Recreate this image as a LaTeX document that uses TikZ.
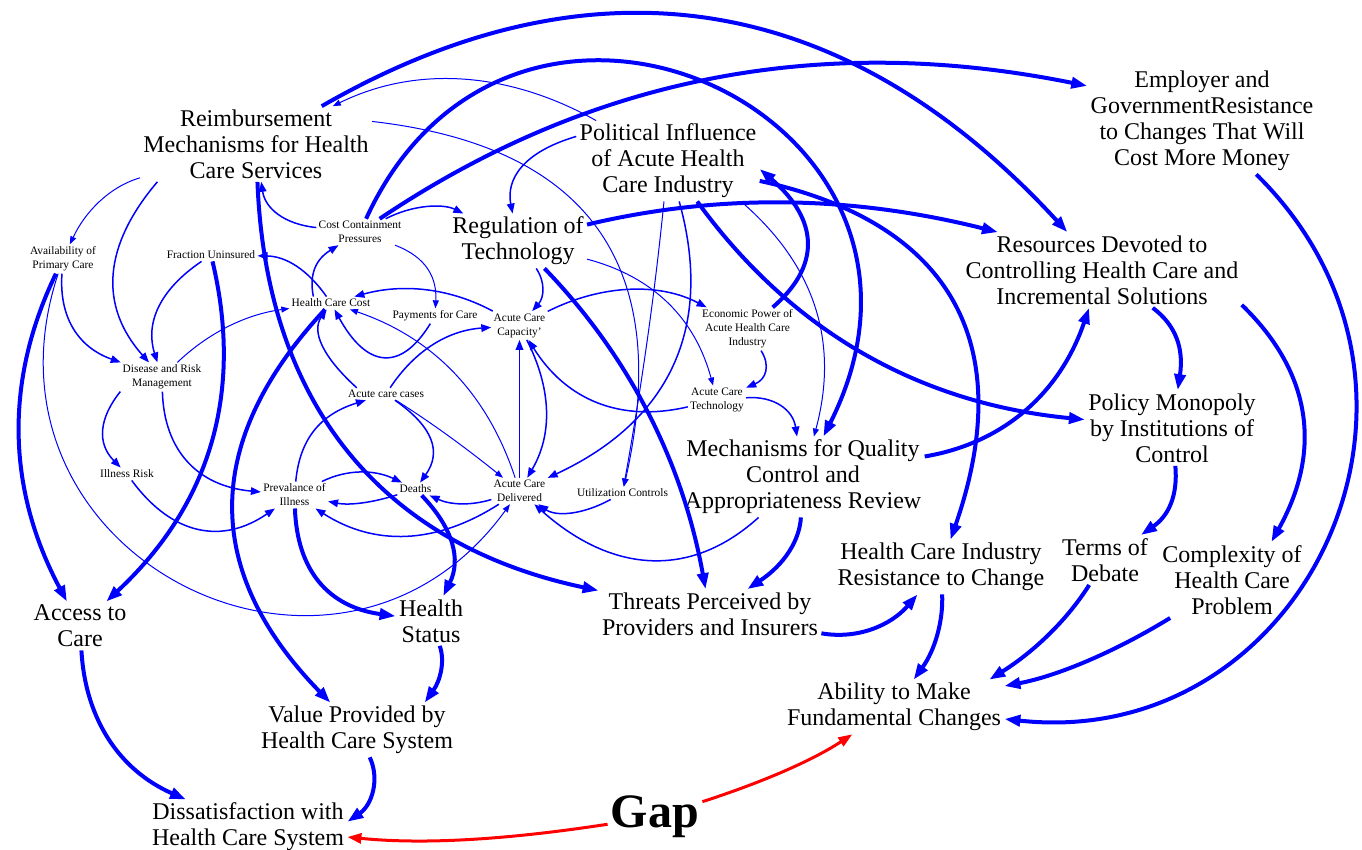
\documentclass[tikz,border=0pt]{standalone}
\usepackage{fontspec}
\setmainfont{Liberation Serif}
\usetikzlibrary{arrows.meta}

\begin{document}
\begin{tikzpicture}[x=0.5pt, y=-0.5pt,
  big/.style={align=center, inner sep=1.5pt, font=\fontsize{12}{13}\selectfont},
  small/.style={align=center, inner sep=1pt, font=\fontsize{5.7}{7}\selectfont},
  thk/.style={blue, line width=2pt, -{Triangle[length=8pt,width=5.5pt]}},
  med/.style={blue, line width=0.75pt, -{Triangle[length=5pt,width=3.8pt]}},
  thn/.style={blue, line width=0.5pt, -{Triangle[length=4pt,width=3pt]}},
  gaparrow/.style={red, line width=1.5pt, -{Triangle[length=7pt,width=5pt]}},
]
\fill[white] (0,0) rectangle (1362,850);
\useasboundingbox (0,0) rectangle (1362,850);

% ---- main variables
\node[big] (reimb) at (256,144) {Reimbursement\\Mechanisms for Health\\Care Services};
\node[big] (polinf) at (668,161) {Political Influence\\of Acute Health\\Care Industry};
\node[big] (employer) at (1202,121) {Employer and\\GovernmentResistance\\to Changes That Will\\Cost More Money};
\node[big] (regtech) at (518,241) {Regulation of\\Technology};
\node[big] (resources) at (1102,270) {Resources Devoted to\\Controlling Health Care and\\Incremental Solutions};
\node[big] (policymon) at (1172,428) {Policy Monopoly\\by Institutions of\\Control};
\node[big] (mech) at (803,477) {Mechanisms for Quality\\Control and\\Appropriateness Review};
\node[big] (hcires) at (941,567) {Health Care Industry\\Resistance to Change};
\node[big] (terms) at (1105,560) {Terms of\\Debate};
\node[big] (complexity) at (1232,580) {Complexity of\\Health Care\\Problem};
\node[big] (threats) at (710,614) {Threats Perceived by\\Providers and Insurers};
\node[big] (access) at (80,626) {Access to\\Care};
\node[big] (hstatus) at (431,621) {Health\\Status};
\node[big] (value) at (357,730) {Value Provided by\\Health Care System};
\node[big] (ability) at (894,707) {Ability to Make\\Fundamental Changes};
\node[big] (dissat) at (248,827) {Dissatisfaction with\\Health Care System};
\node[font=\fontsize{24}{24}\selectfont\bfseries, inner sep=1.5pt] (gap) at (655,817) {Gap};

% ---- detail variables
\node[small] (avail) at (63,259) {Availability of\\Primary Care};
\node[small] (fracun) at (211,255) {Fraction Uninsured};
\node[small] (costcont) at (360,232) {Cost Containment\\Pressures};
\node[small] (hccost) at (331,303) {Health Care Cost};
\node[small] (payments) at (435,316) {Payments for Care};
\node[small] (accap) at (519.5,325.5) {Acute Care\\Capacity'};
\node[small] (econpow) at (747.5,329) {Economic Power of\\Acute Health Care\\Industry};
\node[small] (actech) at (717,400) {Acute Care\\Technology};
\node[small] (disrisk) at (162,377) {Disease and Risk\\Management};
\node[small] (accases) at (386,394) {Acute care cases};
\node[small] (illrisk) at (127,474) {Illness Risk};
\node[small] (prev) at (294.5,495) {Prevalance of\\Illness};
\node[small] (deaths) at (415.5,489) {Deaths};
\node[small] (acdel) at (519.5,491) {Acute Care\\Delivered};
\node[small] (utilctrl) at (622.5,493) {Utilization Controls};

% ---- long arcs across the top
\draw[thk] (reimb) .. controls (593.7,-50.3) and (846,-9) .. (resources);
\draw[thk] (regtech) .. controls (718.7,193.3) and (851,195.3) .. (resources.160);
\draw[thk] (costcont) .. controls (514,-103) and (985,116) .. (mech);
\draw[thk] (costcont) .. controls (593,75.3) and (824.7,32.7) .. (employer.163);
\draw[thn] (polinf) .. controls (509.7,72) and (417,64.7) .. (reimb);
\draw[thn] (reimb.11) .. controls (588,146) and (674,265) .. (utilctrl);

% ---- acute care industry
\draw[thn] (polinf) .. controls (655,291.7) and (642,384) .. (utilctrl);
\draw[med] (polinf) .. controls (714.3,328) and (669.3,421.3) .. (acdel);
\draw[med] (actech) .. controls (620.3,422.7) and (566,400) .. (accap);
\draw[thn] (regtech) .. controls (654.7,277) and (695.3,319.7) .. (actech);
\draw[thn] (polinf.-29) .. controls (814,264.3) and (839.7,341) .. (mech);
\draw[med] (accap) .. controls (602.3,284) and (660,282.7) .. (econpow);
\draw[med] (econpow) .. controls (770.7,366) and (766,379.3) .. (actech);
\draw[med] (actech) .. controls (773.7,395.7) and (793,409.7) .. (mech);
\draw[thk] (econpow) .. controls (820,266.7) and (820,220.7) .. (polinf.-5);
\draw[thk] (polinf) .. controls (954.5,223.3) and (1017.5,346.9) .. (hcires);
\draw[thk] (polinf) .. controls (789.3,328.7) and (916.3,403.3) .. (policymon);

% ---- threats and resistance
\draw[thk] (reimb) .. controls (266,403.7) and (381.3,544.7) .. (threats);
\draw[thk] (regtech) .. controls (631.3,358.3) and (683.3,465.3) .. (threats);
\draw[thk] (mech) .. controls (799.7,540) and (784.7,564.3) .. (threats);
\draw[med] (mech) .. controls (692.3,577.7) and (613.7,575) .. (acdel);
\draw[thk] (mech) .. controls (1006.3,442.7) and (1061,390.3) .. (resources);
\draw[thk] (threats) .. controls (858,639.7) and (891.3,625) .. (hcires);
\draw[thk] (hcires) .. controls (943.3,621) and (935,650) .. (ability);
\draw[thk] (terms) .. controls (1064.7,623.7) and (1030,654.3) .. (ability.16);
\draw[thk] (complexity) .. controls (1114.7,652) and (1057.3,676) .. (ability);
\draw[thk] (employer) .. controls (1476.8,391) and (1305,751.7) .. (ability);
\draw[thk] (resources) .. controls (1175.7,325) and (1184,348.3) .. (policymon);
\draw[thk] (resources.-14) .. controls (1310.3,371.1) and (1323.3,449.1) .. (complexity.44);
\draw[thk] (policymon) .. controls (1178,496) and (1168.3,516) .. (terms);

% ---- outcomes
\draw[thk] (hstatus) .. controls (445.3,661.7) and (440,681) .. (value.22);
\draw[thk] (value) .. controls (380,779.3) and (372,805) .. (dissat.3);
\draw[thk] (access) .. controls (85.4,719.5) and (119.4,770.1) .. (dissat);
\draw[thk] (avail) .. controls (4.7,379.7) and (6.3,488) .. (access);
\draw[thk] (fracun) .. controls (244,394.3) and (209,506) .. (access);
\draw[thk] (hccost) .. controls (202.3,441.3) and (201.7,570.7) .. (value);
\draw[thk] (prev) .. controls (297,570.4) and (328.3,607) .. (hstatus);
\draw[thk] (deaths) .. controls (454,529) and (461,560) .. (hstatus);

% ---- cost and capacity loops
\draw[med] (regtech) .. controls (545.7,282.7) and (544,297.7) .. (accap);
\draw[med] (polinf.165) .. controls (522.3,152.3) and (506,179.7) .. (regtech);
\draw[med] (costcont) .. controls (413.7,204.3) and (443.7,203.7) .. (regtech);
\draw[med] (costcont) .. controls (284.3,224.3) and (265,208.3) .. (reimb);
\draw[thn] (costcont) .. controls (427,257.3) and (437,278.3) .. (payments);
\draw[med] (hccost.160) .. controls (309.7,278.3) and (313,261) .. (costcont);
\draw[med] (hccost) .. controls (307.3,269.3) and (285.7,256.3) .. (fracun);
\draw[med] (accap) .. controls (451.7,289) and (405,282.7) .. (hccost);
\draw[med] (payments) .. controls (400.7,372) and (366.7,368.3) .. (hccost);
\draw[med] (accases.168) .. controls (321.7,356) and (311.7,331) .. (hccost);
\draw[thn] (acdel) .. controls (487,392.5) and (432,337.2) .. (hccost);
\draw[thn] (disrisk) .. controls (208.3,333) and (245.7,314.3) .. (hccost);
\draw[med] (accases) .. controls (415.2,350) and (448.5,330.3) .. (accap);
\draw[med] (accases) .. controls (433.7,427.3) and (441.7,452.3) .. (deaths);
\draw[thn] (accases) .. controls (433,423.7) and (466.3,448.3) .. (acdel);
\draw[med] (prev) .. controls (299.7,439) and (320.3,414.3) .. (accases);
\draw[med] (prev) .. controls (346.7,469.3) and (374,469.3) .. (deaths);
\draw[med] (deaths) .. controls (373.7,502.3) and (350.3,505.7) .. (prev);
\draw[med] (acdel) .. controls (470,506) and (450,504.7) .. (deaths);
\draw[med] (acdel) .. controls (435.7,544.7) and (374.3,546.3) .. (prev);
\draw[med] (acdel) -- (accap);
\draw[med] (accap) .. controls (551,387.7) and (553.3,433.3) .. (acdel);
\draw[med] (utilctrl) .. controls (582.3,515) and (556,516.7) .. (acdel);

% ---- prevention side
\draw[med] (illrisk) .. controls (172.5,535.9) and (222.5,544.5) .. (prev);
\draw[med] (disrisk) .. controls (164,450.2) and (197.3,486.2) .. (prev);
\draw[med] (disrisk.south west) .. controls (99,418.3) and (96.7,443.3) .. (illrisk);
\draw[med] (avail) .. controls (58.9,317.4) and (78.3,347.4) .. (disrisk);
\draw[med] (fracun) .. controls (159.7,289.7) and (145,323) .. (disrisk);
\draw[med] (reimb.201) .. controls (103,245.7) and (98.7,306) .. (disrisk);
\draw[thn] (reimb) .. controls (108.7,187) and (84.7,212.7) .. (avail);
\draw[thn] (avail) .. controls (-35.7,557.5) and (337,742.7) .. (acdel);

% ---- the gap
\draw[gaparrow] (gap) .. controls (511.3,839) and (426.7,845) .. (dissat);
\draw[gaparrow] (gap) .. controls (762.3,782.3) and (812,760.7) .. (ability);
\end{tikzpicture}
\end{document}
